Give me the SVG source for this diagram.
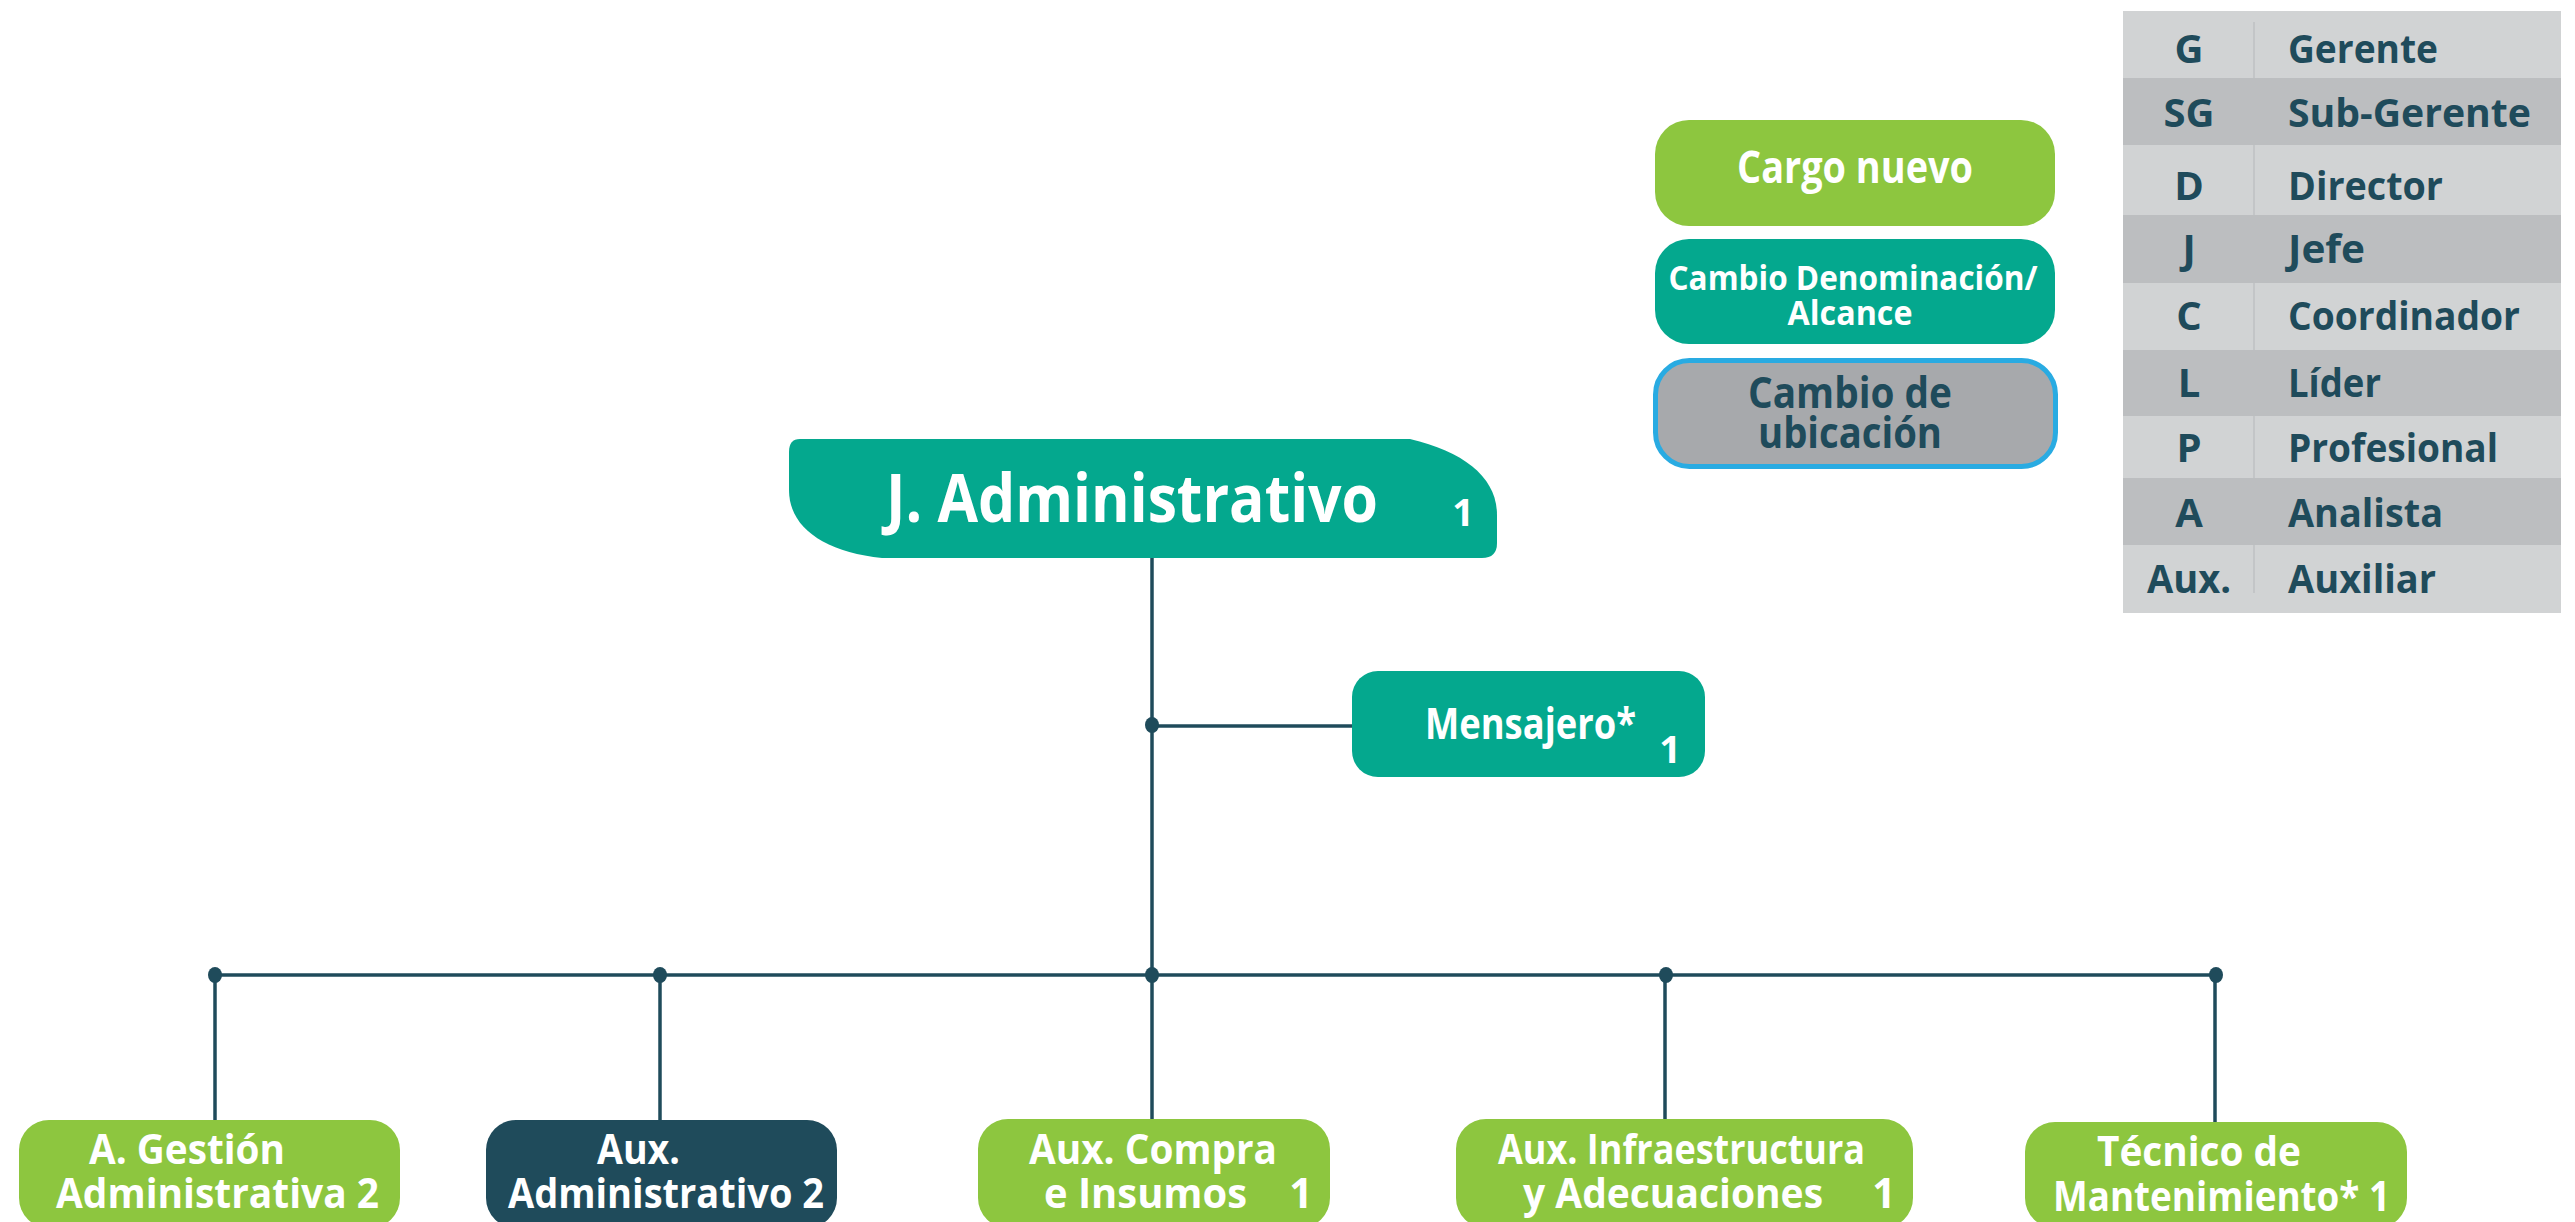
<svg xmlns="http://www.w3.org/2000/svg" width="2575" height="1222" viewBox="0 0 2575 1222">
<defs>
<style>
text{font-family:"Open Sans","Liberation Sans",sans-serif;font-weight:700;}
.w{fill:#ffffff;}
.d{fill:#1f4b5b;}
.green{fill:#8dc63f;}
.teal{fill:#04a88e;}
.dark{fill:#1f4b5b;}
.ln{stroke:#1f4b5b;stroke-width:3.5;fill:none;}
.dot{fill:#1f4b5b;}
.tl{fill:#d1d3d4;}
.td{fill:#bcbec0;}
.tt{font-size:40px;fill:#1f4b5b;}
</style>
</defs>
<rect width="2575" height="1222" fill="#ffffff"/>

<g id="legend-table">
<rect class="tl" x="2123" y="11" width="438" height="67"/>
<rect class="td" x="2123" y="78" width="438" height="67"/>
<rect class="tl" x="2123" y="145" width="438" height="70"/>
<rect class="td" x="2123" y="215" width="438" height="68"/>
<rect class="tl" x="2123" y="283" width="438" height="67"/>
<rect class="td" x="2123" y="350" width="438" height="66"/>
<rect class="tl" x="2123" y="416" width="438" height="62"/>
<rect class="td" x="2123" y="478" width="438" height="67"/>
<rect class="tl" x="2123" y="545" width="438" height="68"/>
<g stroke="#c3c5c7" stroke-width="2">
<line x1="2254" y1="22" x2="2254" y2="78"/>
<line x1="2254" y1="145" x2="2254" y2="215"/>
<line x1="2254" y1="283" x2="2254" y2="350"/>
<line x1="2254" y1="416" x2="2254" y2="478"/>
<line x1="2254" y1="545" x2="2254" y2="593"/>
</g>
<g class="tt" text-anchor="middle">
<text x="2189" y="63">G</text>
<text x="2189" y="127">SG</text>
<text x="2189" y="200">D</text>
<text x="2189" y="263">J</text>
<text x="2189" y="330">C</text>
<text x="2189" y="397">L</text>
<text x="2189" y="462">P</text>
<text x="2189" y="527">A</text>
<text x="2189" y="593" textLength="84" lengthAdjust="spacingAndGlyphs">Aux.</text>
</g>
<g class="tt">
<text x="2288" y="63" textLength="150" lengthAdjust="spacingAndGlyphs">Gerente</text>
<text x="2288" y="127" textLength="243" lengthAdjust="spacingAndGlyphs">Sub-Gerente</text>
<text x="2288" y="200" textLength="155" lengthAdjust="spacingAndGlyphs">Director</text>
<text x="2288" y="263" textLength="77" lengthAdjust="spacingAndGlyphs">Jefe</text>
<text x="2288" y="330" textLength="232" lengthAdjust="spacingAndGlyphs">Coordinador</text>
<text x="2288" y="397" textLength="93" lengthAdjust="spacingAndGlyphs">Líder</text>
<text x="2288" y="462" textLength="210" lengthAdjust="spacingAndGlyphs">Profesional</text>
<text x="2288" y="527" textLength="155" lengthAdjust="spacingAndGlyphs">Analista</text>
<text x="2288" y="593" textLength="148" lengthAdjust="spacingAndGlyphs">Auxiliar</text>
</g>
</g>

<g id="legend-cargo-nuevo">
<rect class="green" x="1655" y="120" width="400" height="106" rx="34"/>
<text class="w" x="1855" y="183" font-size="44" text-anchor="middle" textLength="236" lengthAdjust="spacingAndGlyphs">Cargo nuevo</text>
</g>
<g id="legend-cambio-denominacion">
<rect class="teal" x="1655" y="239" width="400" height="105" rx="34"/>
<text class="w" x="1853" y="290" font-size="34" text-anchor="middle" textLength="369" lengthAdjust="spacingAndGlyphs">Cambio Denominación/</text>
<text class="w" x="1850" y="325" font-size="34" text-anchor="middle" textLength="125" lengthAdjust="spacingAndGlyphs">Alcance</text>
</g>
<g id="legend-cambio-ubicacion">
<rect x="1655.5" y="360.5" width="400" height="106" rx="34" fill="#a7a9ac" stroke="#29abe2" stroke-width="5"/>
<text class="d" x="1850" y="408" font-size="43" text-anchor="middle" textLength="204" lengthAdjust="spacingAndGlyphs">Cambio de</text>
<text class="d" x="1850" y="448" font-size="43" text-anchor="middle" textLength="184" lengthAdjust="spacingAndGlyphs">ubicación</text>
</g>

<g id="connectors">
<line class="ln" x1="1152" y1="558" x2="1152" y2="975"/>
<line class="ln" x1="1152" y1="726" x2="1352" y2="726"/>
<line class="ln" x1="215" y1="975" x2="2215" y2="975" stroke-width="4"/>
<line class="ln" x1="215" y1="975" x2="215" y2="1120"/>
<line class="ln" x1="660" y1="975" x2="660" y2="1120"/>
<line class="ln" x1="1152" y1="975" x2="1152" y2="1120"/>
<line class="ln" x1="1665" y1="975" x2="1665" y2="1120"/>
<line class="ln" x1="2215" y1="975" x2="2215" y2="1122"/>
<ellipse class="dot" cx="1152" cy="725" rx="7" ry="8"/>
<ellipse class="dot" cx="215" cy="975" rx="7" ry="8"/>
<ellipse class="dot" cx="660" cy="975" rx="7" ry="8"/>
<ellipse class="dot" cx="1152" cy="975" rx="7" ry="8"/>
<ellipse class="dot" cx="1666" cy="975" rx="7" ry="8"/>
<ellipse class="dot" cx="2216" cy="975" rx="7" ry="8"/>
</g>

<g id="node-j-administrativo">
<path class="teal" d="M800,439 H1410 C1465,452 1497,478 1497,515 V543 Q1497,558 1482,558 H882 C825,552 789,528 789,490 V452 Q789,439 800,439 Z"/>
<text class="w" x="886" y="522" font-size="66" textLength="492" lengthAdjust="spacingAndGlyphs">J. Administrativo</text>
<text class="w" x="1463" y="526" font-size="38" text-anchor="middle">1</text>
</g>

<g id="node-mensajero">
<rect class="teal" x="1352" y="671" width="353" height="106" rx="26"/>
<text class="w" x="1425" y="739" font-size="43" textLength="211" lengthAdjust="spacingAndGlyphs">Mensajero*</text>
<text class="w" x="1670" y="763" font-size="38" text-anchor="middle">1</text>
</g>

<g id="node-gestion-administrativa">
<rect class="green" x="19" y="1120" width="381" height="108" rx="30"/>
<text class="w" x="89" y="1164" font-size="41" textLength="196" lengthAdjust="spacingAndGlyphs">A. Gestión</text>
<text class="w" x="56" y="1208" font-size="41" textLength="323" lengthAdjust="spacingAndGlyphs">Administrativa  2</text>
</g>

<g id="node-aux-administrativo">
<rect class="dark" x="486" y="1120" width="351" height="108" rx="30"/>
<text class="w" x="597" y="1164" font-size="41" textLength="83" lengthAdjust="spacingAndGlyphs">Aux.</text>
<text class="w" x="508" y="1208" font-size="41" textLength="316" lengthAdjust="spacingAndGlyphs">Administrativo 2</text>
</g>

<g id="node-aux-compra">
<rect class="green" x="978" y="1119" width="352" height="109" rx="30"/>
<text class="w" x="1029" y="1164" font-size="41" textLength="248" lengthAdjust="spacingAndGlyphs">Aux. Compra</text>
<text class="w" x="1044" y="1208" font-size="41" textLength="203" lengthAdjust="spacingAndGlyphs">e Insumos</text>
<text class="w" x="1301" y="1208" font-size="41" text-anchor="middle">1</text>
</g>

<g id="node-aux-infraestructura">
<rect class="green" x="1456" y="1119" width="457" height="109" rx="30"/>
<text class="w" x="1498" y="1164" font-size="41" textLength="367" lengthAdjust="spacingAndGlyphs">Aux. Infraestructura</text>
<text class="w" x="1523" y="1208" font-size="41" textLength="300" lengthAdjust="spacingAndGlyphs">y Adecuaciones</text>
<text class="w" x="1884" y="1208" font-size="41" text-anchor="middle">1</text>
</g>

<g id="node-tecnico-mantenimiento">
<rect class="green" x="2025" y="1122" width="382" height="106" rx="30"/>
<text class="w" x="2097" y="1166" font-size="41" textLength="204" lengthAdjust="spacingAndGlyphs">Técnico de</text>
<text class="w" x="2053" y="1211" font-size="41" textLength="337" lengthAdjust="spacingAndGlyphs">Mantenimiento* 1</text>
</g>
</svg>
